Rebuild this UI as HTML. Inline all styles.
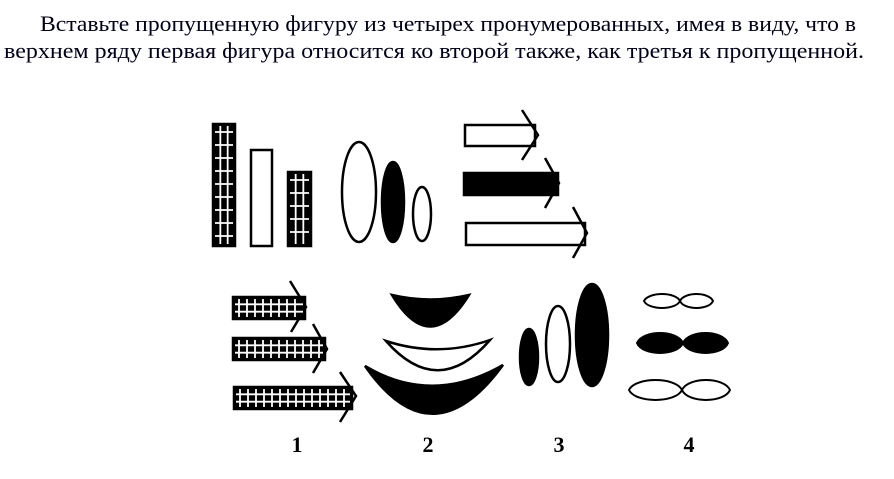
<!DOCTYPE html>
<html><head><meta charset="utf-8">
<style>
html,body{margin:0;padding:0;background:#fff;}
svg{display:block;}
</style></head>
<body>
<svg id="fig" width="894" height="479" viewBox="0 0 894 479" xmlns="http://www.w3.org/2000/svg">
<g font-family="'Liberation Serif', serif" font-size="22" fill="#000018">
<text x="40" y="31" textLength="816" lengthAdjust="spacingAndGlyphs">Вставьте пропущенную фигуру из четырех пронумерованных, имея в виду, что в</text>
<text x="4" y="58" textLength="860" lengthAdjust="spacingAndGlyphs">верхнем ряду первая фигура относится ко второй также, как третья к пропущенной.</text>
</g>
<g id="topbars" stroke="#000" stroke-width="2.5">
<rect x="213" y="124" width="22" height="122" fill="#000"/>
<rect x="251" y="150" width="21" height="96" fill="#fff"/>
<rect x="288" y="172" width="23" height="74" fill="#000"/>
</g>
<g stroke="#000" stroke-width="2.5">
<ellipse cx="359" cy="192" rx="17" ry="50" fill="#fff"/>
<ellipse cx="393" cy="202" rx="11" ry="40" fill="#000"/>
<ellipse cx="422" cy="214" rx="9" ry="27" fill="#fff"/>
</g>
<g stroke="#000" stroke-width="2.5" fill="none">
<rect x="465" y="125" width="70" height="21" fill="#fff"/>
<polyline points="522,110 538,135 522,160"/>
<rect x="464" y="173" width="94" height="22" fill="#000"/>
<polyline points="545,158 559,183 545,208"/>
<rect x="466" y="223" width="119" height="22" fill="#fff"/>
<polyline points="573,207 587,233 573,258"/>
</g>
<g id="opt1" stroke="#000" stroke-width="2.5" fill="none">
<rect x="233" y="297" width="72" height="22" fill="#000"/>
<polyline points="290,281 306,307 291,332"/>
<rect x="233" y="338" width="92" height="22" fill="#000"/>
<polyline points="313,324 327,349 313,373"/>
<rect x="234" y="387" width="118" height="22" fill="#000"/>
<polyline points="340,372 356,396 340,422"/>
</g>
<g stroke="#000" stroke-width="2.5">
<path d="M392,295 Q430,304 469,295 Q430,358 392,295 Z" fill="#000"/>
<path d="M386,341 Q438,358 490,340 Q438,400 386,341 Z" fill="#fff"/>
<path d="M365,366 Q432,406 503,365 Q432,462 365,366 Z" fill="#000"/>
</g>
<g stroke="#000" stroke-width="2.5">
<ellipse cx="529" cy="357" rx="9" ry="28" fill="#000"/>
<ellipse cx="558" cy="344" rx="12" ry="38" fill="#fff"/>
<ellipse cx="592" cy="335" rx="16" ry="51" fill="#000"/>
</g>
<g id="opt4" stroke="#000" stroke-width="2"></g>
<g font-family="'Liberation Serif', serif" font-weight="bold" font-size="22" fill="#000" text-anchor="middle">
<text x="297" y="452">1</text>
<text x="428" y="452">2</text>
<text x="559" y="452">3</text>
<text x="689" y="452">4</text>
</g>
</svg>
<script>
var NS="http://www.w3.org/2000/svg";
function line(g,x1,y1,x2,y2){
  var l=document.createElementNS(NS,"line");
  l.setAttribute("x1",x1);l.setAttribute("y1",y1);l.setAttribute("x2",x2);l.setAttribute("y2",y2);
  l.setAttribute("stroke","#fff");l.setAttribute("stroke-width","1.8");
  
  
  g.appendChild(l);
}
var tb=document.getElementById("topbars");
[[213,124,22,122],[288,172,23,74]].forEach(function(r){
  var x=r[0],y=r[1],w=r[2],h=r[3];
  line(tb,x+w/3,y+2,x+w/3,y+h-2);line(tb,x+2*w/3,y+2,x+2*w/3,y+h-2);
  for(var yy=y+8;yy<y+h-3;yy+=13)line(tb,x+2,yy,x+w-2,yy);
});
var o1=document.getElementById("opt1");
[[233,297,72,22],[233,338,92,22],[234,387,118,22]].forEach(function(r){
  var x=r[0],y=r[1],w=r[2],h=r[3];
  line(o1,x+2,y+h/3,x+w-2,y+h/3);line(o1,x+2,y+2*h/3,x+w-2,y+2*h/3);
  for(var xx=x+6;xx<x+w-3;xx+=8)line(o1,xx,y+2,xx,y+h-2);
});
var o4=document.getElementById("opt4");
function lens(a,b,y,h,fill){
  var w=b-a,p=document.createElementNS(NS,"path");
  var k=h*1.33;
  p.setAttribute("d","M"+a+","+y+" C"+(a+w*0.12)+","+(y-k)+" "+(b-w*0.12)+","+(y-k)+" "+b+","+y+" C"+(b-w*0.12)+","+(y+k)+" "+(a+w*0.12)+","+(y+k)+" "+a+","+y+"Z");
  p.setAttribute("fill",fill);
  
  
  o4.appendChild(p);
}
lens(644,680,301,7,"#fff");lens(680,713,301,7,"#fff");
lens(637,683,343,10,"#000");lens(683,728,343,10,"#000");
lens(629,682,390,10,"#fff");lens(682,730,390,10,"#fff");
</script>
</body></html>
